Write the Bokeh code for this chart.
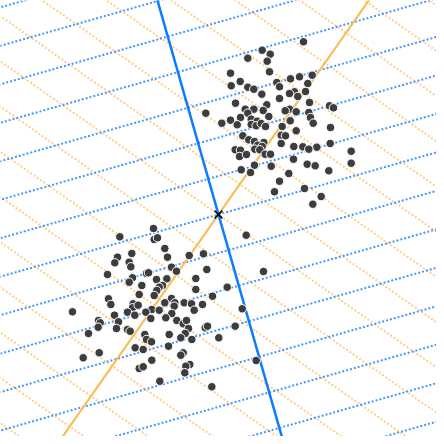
import numpy as np
from bokeh.plotting import figure
from bokeh.models import Range1d
from bokeh.embed import file_html
from bokeh.resources import INLINE

# Cluster A (upper right)
ax = [8.5, 4.37, 5.17, 2.93, 4.87, 5.1, 1.2, 9.37, 8.1, 7.2, 2.17, 5.83, 8.93, 1.27, 2.93, 6.1,
      3.53, 7.6, 8.7, 7.1, 4.33, 7.93, 6.1, 1.7, 9.1, 4.83, 11.1, 11.5, 2.67, 3.53, 4.47, 7.1,
      6.67, 2.93, 7.77, 9.03, 5.03, 2.2, 1.2, 0.33, 3.27, 3.87, 9.2, 7.17, 9.47, 1.87, 3.27, 3.77,
      4.27, 4.7, 6.37, 11.2, 7.77, 2.43, 6.27, 6.7, 3.03, 3.6, 4.53, 6.27, 11.17, 3.93, 4.37, 7.53,
      8.43, 9.83, 9.03, 1.67, 2.2, 3.63, 4.13, 13.27, 4.67, 5.2, 2.1, 2.8, 7.5, 13.27, 3.6, 5.27,
      8.87, 9.67, 2.27, 3.2, 11.03, 7.03, 6.1, 8.6, 5.6, 10.27, 9.43, -1.27]
ay = [17.27, 16.43, 16.03, 15.63, 15.33, 14.27, 14.13, 13.93, 13.77, 13.57, 13.3, 13.2, 13.1, 12.87, 12.73, 12.77,
      12.53, 12.27, 12.3, 12.1, 12.03, 11.8, 11.6, 11.13, 11.2, 10.97, 10.87, 10.67, 10.53, 10.53, 10.4, 10.53,
      10.37, 10.13, 10.27, 10.2, 9.8, 9.7, 9.43, 9.13, 9.53, 9.33, 9.7, 9.37, 9.13, 8.97, 9.0, 8.87,
      9.1, 8.8, 8.8, 8.7, 8.37, 7.87, 7.93, 7.87, 7.47, 7.3, 7.2, 7.1, 7.1, 6.93, 6.8, 6.8,
      6.77, 6.73, 6.53, 6.47, 6.43, 6.53, 6.47, 6.33, 6.03, 6.03, 5.8, 6.0, 5.53, 5.13, 4.93, 4.83,
      5.03, 4.87, 4.47, 4.2, 4.37, 4.1, 3.33, 2.6, 2.27, 1.8, 1.03, 10.13]

# Cluster B (lower left)
bx = [-6.5, -9.87, -6.43, -6.1, -5.37, -8.67, -10.1, -10.37, -5.1, -8.93, -8.77, -2.93, -1.5, -4.7, -4.2, -1.17,
      -11.1, -7.2, -7.0, -8.6, -8.93, -6.2, -5.17, -2.27, -7.67, -5.6, -5.93, -6.17, -2.27, -7.93, -6.43, -11.0,
      -4.7, -0.6, -10.77, -8.53, -8.6, -8.03, -5.37, -4.37, -4.43, -3.43, -2.7, -2.43, -1.6, -6.67, -5.93, -4.67,
      -9.1, -8.37, -7.27, -14.6, -10.4, -5.27, -6.77, -4.17, -3.53, -3.2, -12.0, -11.83, -10.0, -12.03, -10.2, -9.1,
      -8.83, -3.0, -1.33, -1.1, -13.0, -3.33, -4.93, -7.37, -7.2, -6.7, -3.77, -2.67, -5.0, -8.33, -7.53, -11.93,
      -3.53, -3.77, -13.53, -6.67, -2.87, -3.27, -7.93, -7.53, -3.37, -5.87, -0.67, 2.77, 4.5, 0.87, 2.37, 1.67,
      0.03, 3.77]
by = [-1.4, -2.23, -2.5, -2.33, -3.4, -3.9, -4.27, -4.83, -4.27, -4.77, -5.23, -4.1, -3.93, -5.27, -5.67, -5.5,
      -6.0, -5.9, -5.83, -6.33, -6.77, -6.5, -6.43, -6.4, -7.1, -7.1, -7.27, -7.6, -7.5, -8.0, -8.1, -8.43,
      -8.4, -8.17, -9.0, -8.93, -9.33, -9.07, -8.83, -8.83, -9.17, -8.83, -8.93, -9.57, -9.0, -9.5, -9.57, -9.9,
      -9.77, -10.07, -9.77, -9.73, -10.07, -10.33, -10.4, -10.6, -10.93, -10.6, -10.6, -10.83, -10.73, -11.27, -11.4, -11.5,
      -11.67, -11.4, -11.33, -11.17, -11.9, -11.9, -12.0, -12.0, -12.5, -12.73, -12.33, -12.5, -13.17, -13.33, -13.5, -13.83,
      -13.83, -14.07, -14.33, -14.57, -15.0, -15.17, -15.4, -15.23, -15.83, -16.67, -17.23, -2.07, -5.7, -7.27, -9.43, -11.17,
      -12.33, -14.6]

# Projection frame: centre and the two axis directions
center = (0.0, 0.0)
axis_blue = (0.2741, -0.9617)
axis_orange = (0.5746, 0.8185)
grid_step = 3.7
grid_index = list(range(-10, 11))

p = figure(width=436, height=436, output_backend="svg", toolbar_location=None,
           x_range=Range1d(-21.8, 21.8), y_range=Range1d(-22.2, 21.4), min_border=0)
p.axis.visible = False
p.grid.visible = False
p.outline_line_color = None
p.background_fill_color = "white"
p.border_fill_color = "white"

L = 60.0
cx, cy = center

def family(axis):
    ux, uy = axis
    nx, ny = -uy, ux
    xs, ys = [], []
    for k in grid_index:
        ox = cx + k * grid_step * ux
        oy = cy + k * grid_step * uy
        xs.append([ox - L * nx, ox + L * nx])
        ys.append([oy - L * ny, oy + L * ny])
    return xs, ys

oxs, oys = family(axis_orange)
p.multi_line(oxs, oys, line_color="#ffb347", line_alpha=0.65, line_width=2, line_dash="2 2")
bxs, bys = family(axis_blue)
p.multi_line(bxs, bys, line_color="#2f8cff", line_alpha=0.9, line_width=2, line_dash="2 2")

p.line([cx - L * axis_orange[0], cx + L * axis_orange[0]],
       [cy - L * axis_orange[1], cy + L * axis_orange[1]], line_color="#fbbd5c", line_width=2.2)
p.line([cx - L * axis_blue[0], cx + L * axis_blue[0]],
       [cy - L * axis_blue[1], cy + L * axis_blue[1]], line_color="#0d7bff", line_width=2.5)

px = ax + bx
py = ay + by
p.scatter(px, py, size=8.5, fill_color="#3d3d3d", line_color="white", line_width=1)
p.scatter([cx], [cy], marker="x", size=11, line_color="black", line_width=1.6)

open("out.html", "w").write(file_html(p, INLINE))
